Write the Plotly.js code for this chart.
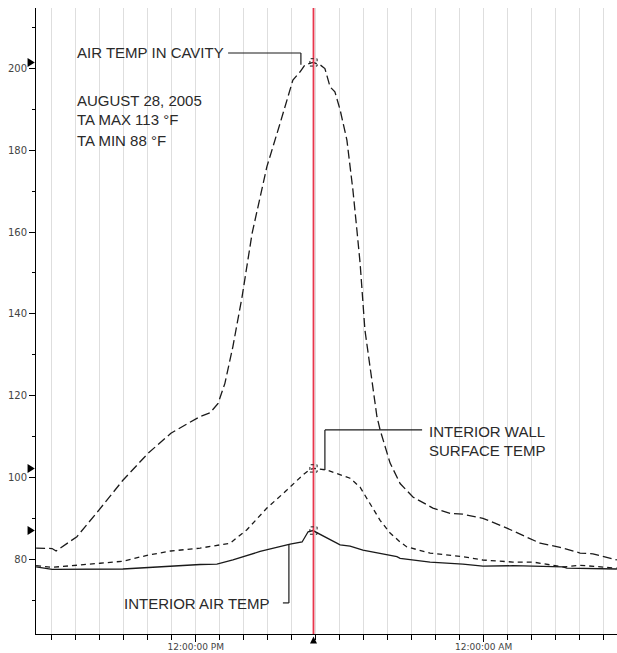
<!DOCTYPE html>
<html>
<head>
<meta charset="utf-8">
<script src="https://cdn.plot.ly/plotly-3.0.1.min.js"></script>
<style>html,body{margin:0;padding:0;background:#fff;}#chart{width:617px;height:653px;}</style>
</head>
<body>
<div id="chart"></div>
<script>
// ---- Data ----
const cavityTimes = ["2005-08-28 05:21","2005-08-28 06:01","2005-08-28 06:11","2005-08-28 07:03","2005-08-28 07:58","2005-08-28 08:58","2005-08-28 10:01","2005-08-28 10:58","2005-08-28 12:11","2005-08-28 12:36","2005-08-28 12:56","2005-08-28 13:13","2005-08-28 13:33","2005-08-28 13:56","2005-08-28 14:21","2005-08-28 14:58","2005-08-28 15:31","2005-08-28 15:48","2005-08-28 16:03","2005-08-28 16:21","2005-08-28 16:33","2005-08-28 16:53","2005-08-28 17:11","2005-08-28 17:23","2005-08-28 17:36","2005-08-28 17:48","2005-08-28 18:01","2005-08-28 18:18","2005-08-28 18:33","2005-08-28 18:43","2005-08-28 18:51","2005-08-28 19:03","2005-08-28 19:16","2005-08-28 19:33","2005-08-28 19:41","2005-08-28 20:06","2005-08-28 20:31","2005-08-28 21:03","2005-08-28 21:53","2005-08-28 22:36","2005-08-28 23:08","2005-08-28 23:58","2005-08-29 00:58","2005-08-29 02:21","2005-08-29 03:11","2005-08-29 04:01","2005-08-29 04:33","2005-08-29 05:33"];
const cavityTemps = [82.7,82.6,82.0,85.5,92.0,99.3,105.9,110.8,114.9,115.8,118.1,123.0,132.0,144.2,159.7,176.0,186.6,192.3,197.2,199.2,200.9,201.5,200.9,200.0,195.5,194.3,189.9,182.5,170.3,160.5,152.4,136.1,126.3,114.9,111.6,103.5,98.5,95.2,92.5,91.2,91.0,90.0,87.6,83.9,82.9,81.5,81.3,79.8];

const wallTimes = ["2005-08-28 05:21","2005-08-28 06:01","2005-08-28 08:01","2005-08-28 08:58","2005-08-28 10:01","2005-08-28 10:58","2005-08-28 12:11","2005-08-28 13:26","2005-08-28 14:08","2005-08-28 14:58","2005-08-28 15:48","2005-08-28 16:28","2005-08-28 16:46","2005-08-28 16:58","2005-08-28 17:28","2005-08-28 18:26","2005-08-28 18:51","2005-08-28 19:16","2005-08-28 19:41","2005-08-28 20:06","2005-08-28 20:31","2005-08-28 20:48","2005-08-28 21:46","2005-08-28 23:08","2005-08-28 23:58","2005-08-29 01:13","2005-08-29 02:03","2005-08-29 03:18","2005-08-29 04:01","2005-08-29 05:33"];
const wallTemps = [78.4,78.0,79.0,79.5,81.0,82.0,82.7,83.9,87.2,92.5,96.9,100.6,102.0,102.2,101.8,99.8,97.6,93.7,89.5,86.4,84.2,83.0,81.5,80.6,79.8,79.3,79.3,78.1,78.5,77.8];

const airTimes = ["2005-08-28 05:21","2005-08-28 06:01","2005-08-28 08:58","2005-08-28 10:01","2005-08-28 10:58","2005-08-28 12:11","2005-08-28 12:53","2005-08-28 13:33","2005-08-28 14:41","2005-08-28 15:56","2005-08-28 16:26","2005-08-28 16:41","2005-08-28 16:53","2005-08-28 17:28","2005-08-28 18:01","2005-08-28 18:26","2005-08-28 18:58","2005-08-28 20:23","2005-08-28 20:31","2005-08-28 21:46","2005-08-28 23:08","2005-08-28 23:58","2005-08-29 01:13","2005-08-29 03:18","2005-08-29 03:28","2005-08-29 05:33"];
const airTemps = [78.1,77.5,77.6,78.0,78.4,78.7,78.8,79.8,81.9,83.7,84.2,86.7,87.0,85.1,83.5,83.2,82.2,80.6,80.2,79.3,78.8,78.3,78.4,78.1,77.8,77.6];

const cursorTime = "2005-08-28 16:54:30";
const xRange = ["2005-08-28 05:20:45","2005-08-29 05:33:15"];
const yRange = [61.7, 214.8];
const xTickVals = ["2005-08-28 12:00","2005-08-29 00:00"];
const xTickText = ["12:00:00 PM","12:00:00 AM"];

const labelCavity = "AIR TEMP IN CAVITY";
const labelInfo = ["AUGUST 28, 2005","TA MAX 113 °F","TA MIN 88 °F"];
const labelWall = ["INTERIOR WALL","SURFACE TEMP"];
const labelAir = "INTERIOR AIR TEMP";

// ---- helpers ----
function toMs(s){const [d,t]=s.split(' ');const [Y,M,D]=d.split('-').map(Number);const a=(t+':0').split(':').map(Number);return Date.UTC(Y,M-1,D,a[0],a[1],a[2]||0);}
function fmt(ms){const d=new Date(ms);const p=n=>String(n).padStart(2,'0');return d.getUTCFullYear()+'-'+p(d.getUTCMonth()+1)+'-'+p(d.getUTCDate())+' '+p(d.getUTCHours())+':'+p(d.getUTCMinutes())+':'+p(d.getUTCSeconds());}
const MIN = 60000;
const ink = '#1a1a1a';
const txtFont = {family:'Liberation Sans, Arial, sans-serif', size:15, color:'#2a2a2a'};

const traces = [
  {x:cavityTimes, y:cavityTemps, mode:'lines', line:{color:ink, width:1.3, dash:'9px,4px'}, hoverinfo:'skip'},
  {x:wallTimes, y:wallTemps, mode:'lines', line:{color:ink, width:1.3, dash:'5px,4px'}, hoverinfo:'skip'},
  {x:airTimes, y:airTemps, mode:'lines', line:{color:ink, width:1.3}, hoverinfo:'skip'}
];

const peaks = [Math.max(...cavityTemps), Math.max(...wallTemps), Math.max(...airTemps)];
const cur = toMs(cursorTime);
const curPaper = (cur - toMs(xRange[0])) / (toMs(xRange[1]) - toMs(xRange[0]));
const shapes = [];
// red cursor line
shapes.push({type:'line', xref:'x', yref:'paper', x0:cursorTime, x1:cursorTime, y0:0, y1:1, line:{color:'#e8364c', width:1.8}});
// cursor triangle under the axis
shapes.push({type:'path', xref:'paper', yref:'paper', path:`M ${curPaper-0.006} -0.0150 L ${curPaper+0.006} -0.0150 L ${curPaper} -0.0040 Z`, fillcolor:'#000', line:{width:0}});
// left-axis peak triangles and peak boxes
peaks.forEach(v=>{
  shapes.push({type:'path', xref:'paper', yref:'y', path:`M -0.0145 ${v+1.1} L -0.0145 ${v-1.1} L -0.002 ${v} Z`, fillcolor:'#000', line:{width:0}});
  shapes.push({type:'rect', xref:'x', yref:'y', x0:fmt(cur-9*MIN), x1:fmt(cur+9*MIN), y0:v-0.9, y1:v+0.9, line:{color:ink, width:1, dash:'dot'}});
});
// leader lines
function seg(x0,y0,x1,y1){shapes.push({type:'line', xref:'x', yref:'y', x0:x0, y0:y0, x1:x1, y1:y1, line:{color:ink, width:1.2}});}
seg("2005-08-28 13:21",203.8,"2005-08-28 16:23",203.8);
seg("2005-08-28 16:23",203.8,"2005-08-28 16:23",200.9);
seg("2005-08-28 21:26",111.6,"2005-08-28 17:23",111.6);
seg("2005-08-28 17:23",111.6,"2005-08-28 17:23",101.8);
seg("2005-08-28 15:38",69.3,"2005-08-28 15:53",69.3);
seg("2005-08-28 15:53",69.3,"2005-08-28 15:53",83.7);

function ann(text,x,y,xanchor){return {text:text, xref:'paper', yref:'paper', x:x, y:y, xanchor:xanchor||'left', yanchor:'middle', showarrow:false, font:txtFont};}
const annotations = [
  ann(labelCavity, 0.0671, 0.9297),
  ann(labelInfo[0], 0.0671, 0.8530),
  ann(labelInfo[1], 0.0671, 0.8211),
  ann(labelInfo[2], 0.0671, 0.7891),
  ann(labelWall[0], 0.6730, 0.3232),
  ann(labelWall[1], 0.6730, 0.2928),
  ann(labelAir, 0.4062, 0.0495, 'right')
];

const layout = {
  width:617, height:653,
  margin:{l:36, r:0, t:8, b:19},
  paper_bgcolor:'#fff', plot_bgcolor:'#fff',
  showlegend:false,
  xaxis:{type:'date', range:xRange, tickmode:'array', tickvals:xTickVals, ticktext:xTickText,
    ticks:'outside', ticklen:7, tickcolor:'#000', showline:true, linecolor:'#000', linewidth:1,
    showgrid:true, gridcolor:'#dedede', gridwidth:1, zeroline:false, ticklabelstandoff:-3,
    tickfont:{family:'DejaVu Sans, sans-serif', size:9, color:'#444'},
    minor:{dtick:3600000, tick0:'2005-08-28 00:00', ticks:'outside', ticklen:5, tickcolor:'#000', showgrid:true, gridcolor:'#dedede', gridwidth:1}},
  yaxis:{range:yRange, dtick:20, tick0:0, ticks:'outside', ticklen:6, tickcolor:'#000',
    showline:true, linecolor:'#000', linewidth:1, showgrid:false, zeroline:false,
    tickfont:{family:'DejaVu Sans, sans-serif', size:10, color:'#444'},
    minor:{dtick:10, ticks:'outside', ticklen:3, tickcolor:'#000'}},
  shapes:shapes,
  annotations:annotations
};
Plotly.newPlot('chart', traces, layout, {displayModeBar:false, staticPlot:true});
</script>
</body>
</html>
